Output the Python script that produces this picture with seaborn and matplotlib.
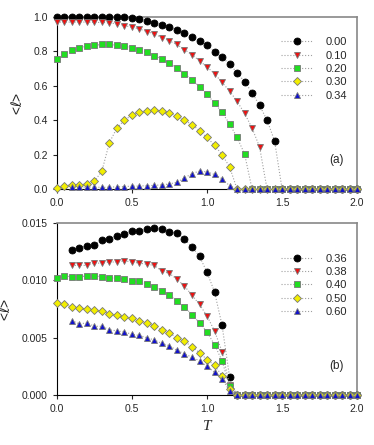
import numpy as np
import pandas as pd
import seaborn as sns
import matplotlib.pyplot as plt

# temperature grid (step 0.05)
T = np.round(np.arange(0, 41) * 0.05, 2)

# panel (a): <l> vs T for several values of the parameter
labels_a = ["0.00", "0.10", "0.20", "0.30", "0.34"]
l_000 = [1.0, 1.0, 1.0, 1.0, 1.0, 1.0, 1.0, 1.0, 1.0, 0.998, 0.995,
         0.985, 0.975, 0.965, 0.955, 0.94, 0.925, 0.905, 0.885, 0.86, 0.835,
         0.797, 0.765, 0.727, 0.676, 0.624, 0.56, 0.486, 0.40, 0.28]
l_010 = [0.97, 0.97, 0.97, 0.97, 0.97, 0.968, 0.968, 0.965, 0.96, 0.95, 0.94,
         0.93, 0.915, 0.90, 0.88, 0.86, 0.84, 0.81, 0.78, 0.745, 0.71,
         0.67, 0.62, 0.57, 0.51, 0.44, 0.355, 0.245]
l_020 = [0.755, 0.785, 0.805, 0.82, 0.83, 0.835, 0.84, 0.84, 0.835, 0.83, 0.82,
         0.81, 0.795, 0.775, 0.755, 0.73, 0.705, 0.67, 0.635, 0.595, 0.55,
         0.50, 0.445, 0.38, 0.30, 0.205]
l_030 = [0.005, 0.02, 0.025, 0.025, 0.03, 0.045, 0.105, 0.27, 0.355, 0.40, 0.43,
         0.45, 0.455, 0.46, 0.455, 0.44, 0.425, 0.40, 0.375, 0.34, 0.30,
         0.255, 0.20, 0.13]
l_034 = [None, None, 0.01, 0.01, 0.012, 0.012, 0.01, 0.012, 0.013, 0.015, 0.017,
         0.018, 0.02, 0.022, 0.025, 0.03, 0.04, 0.065, 0.09, 0.105, 0.10,
         0.085, 0.06, 0.02]

# panel (b)
labels_b = ["0.36", "0.38", "0.40", "0.50", "0.60"]
l_036 = [None, None, 0.0126, 0.0128, 0.0130, 0.0131, 0.0135, 0.0136, 0.0139, 0.0140, 0.0143,
         0.0143, 0.0145, 0.0146, 0.0145, 0.0142, 0.0141, 0.0136, 0.0129, 0.0121, 0.0107,
         0.0090, 0.0061, 0.0016]
l_038 = [None, None, 0.0113, 0.0113, 0.0113, 0.0115, 0.0115, 0.0116, 0.0116, 0.0117, 0.0116,
         0.0115, 0.0114, 0.0113, 0.0108, 0.0106, 0.0101, 0.0095, 0.0087, 0.0079, 0.0069,
         0.0056, 0.0038, 0.0009]
l_040 = [0.0102, 0.0104, 0.0103, 0.0103, 0.0104, 0.0104, 0.0103, 0.0102, 0.0102, 0.0101, 0.0099,
         0.0099, 0.0097, 0.0094, 0.0091, 0.0087, 0.0082, 0.0077, 0.0070, 0.0063, 0.0055,
         0.0044, 0.0030, 0.0008]
l_050 = [0.0080, 0.0079, 0.0077, 0.0076, 0.0075, 0.0074, 0.0073, 0.0071, 0.0070, 0.0068, 0.0067,
         0.0065, 0.0063, 0.0060, 0.0057, 0.0054, 0.0050, 0.0047, 0.0042, 0.0037, 0.0031,
         0.0026, 0.0017, 0.0005]
l_060 = [None, None, 0.0065, 0.0062, 0.0063, 0.0060, 0.0060, 0.0057, 0.0056, 0.0055, 0.0053,
         0.0052, 0.0050, 0.0048, 0.0045, 0.0043, 0.0039, 0.0036, 0.0033, 0.0030, 0.0025,
         0.0020, 0.0014, 0.0004]

colors = ["#000000", "#ee1111", "#22dd22", "#f2ee00", "#1111cc"]
markers = ["o", "v", "s", "D", "^"]
sizes = [5, 5, 5, 4.3, 5]


def pad(vals):
    # series drop to zero after the transition, up to T = 2.0
    v = list(vals) + [0.0] * (len(T) - len(vals))
    return np.array([np.nan if x is None else x for x in v], dtype=float)


sns.set_style("ticks")
plt.rcParams["font.family"] = ["Liberation Sans", "DejaVu Sans"]

fig = plt.figure(figsize=(3.74, 4.45), dpi=100)
ax_a = fig.add_axes([0.152, 0.575, 0.803, 0.387])
ax_b = fig.add_axes([0.152, 0.112, 0.803, 0.387])


def draw(ax, labels, series, leg_top):
    for lab, vals, c, m, s in zip(labels, series, colors, markers, sizes):
        df = pd.DataFrame({"T": T, "l": pad(vals)}).dropna()
        sns.lineplot(data=df, x="T", y="l", ax=ax, color="#a0a0a0", linestyle=":",
                     linewidth=0.8, marker=m, markersize=s, markerfacecolor=c,
                     markeredgecolor="#777777" if c != "#000000" else "#000000",
                     markeredgewidth=0.6, label=lab, clip_on=False, zorder=3)
    ax.set_xlim(0, 2.0)
    ax.set_xticks([0, 0.5, 1.0, 1.5, 2.0])
    ax.set_xlabel("")
    ax.set_ylabel(r"<$\ell$>", fontsize=10, labelpad=6)
    ax.tick_params(axis="both", labelsize=7.5, length=3, width=0.8, direction="out",
                   top=False, right=False)
    for side in ["top", "right"]:
        ax.spines[side].set_color("#888888")
        ax.spines[side].set_linewidth(1.2)
    for side in ["left", "bottom"]:
        ax.spines[side].set_color("#000000")
        ax.spines[side].set_linewidth(0.8)
    ax.legend(loc="upper right", bbox_to_anchor=(1.0, leg_top), frameon=False,
              fontsize=8, handlelength=2.8, handletextpad=1.2, labelspacing=0.3)


draw(ax_a, labels_a, [l_000, l_010, l_020, l_030, l_034], 0.94)
ax_a.set_ylim(0, 1.0)
ax_a.set_yticks([0, 0.2, 0.4, 0.6, 0.8, 1.0])
ax_a.set_yticklabels(["0.0", "0.2", "0.4", "0.6", "0.8", "1.0"])
ax_a.set_xticklabels(["0.0", "0.5", "1.0", "1.5", "2.0"])
ax_a.text(0.955, 0.15, "(a)", transform=ax_a.transAxes, ha="right", fontsize=8.5)

draw(ax_b, labels_b, [l_036, l_038, l_040, l_050, l_060], 0.88)
ax_b.set_ylim(0, 0.015)
ax_b.set_yticks([0, 0.005, 0.010, 0.015])
ax_b.set_yticklabels(["0.000", "0.005", "0.010", "0.015"])
ax_b.set_xticklabels(["0.0", "0.5", "1.0", "1.5", "2.0"])
ax_b.text(0.955, 0.15, "(b)", transform=ax_b.transAxes, ha="right", fontsize=8.5)
ax_b.set_xlabel("T", fontsize=11, fontstyle="italic", family="Liberation Serif", labelpad=4)

fig.savefig("out.png", dpi=100)
